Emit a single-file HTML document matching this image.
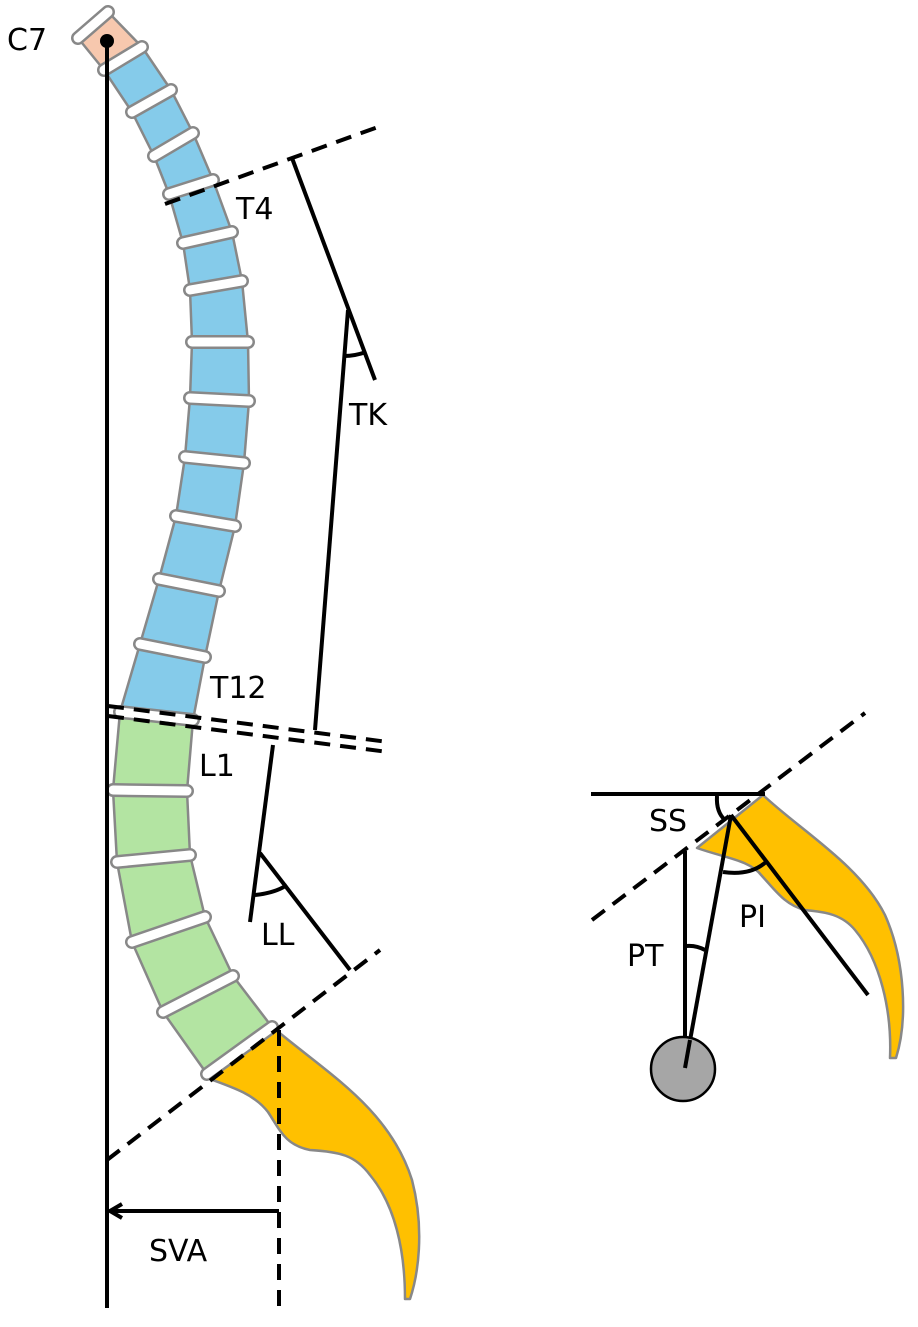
<!DOCTYPE html>
<html><head><meta charset="utf-8"><style>html,body{margin:0;padding:0;background:#fff}svg{display:block}text{font-family:"DejaVu Sans","Liberation Sans",sans-serif;font-size:30px;fill:#000}</style></head>
<body>
<svg width="918" height="1327" viewBox="0 0 918 1327" xmlns="http://www.w3.org/2000/svg">
<g stroke="#888" stroke-width="2.5" stroke-linejoin="round">
<polygon fill="#F7C8AE" points="78,38 108,12 142,47 104,70"/>
<g fill="#85CBEA">
<polygon points="104,70 142,47 171,90 132,112"/>
<polygon points="132,112 171,90 193,133 154,156"/>
<polygon points="154,156 193,133 213,180 169,194"/>
<polygon points="169,194 213,180 232,232 183,243"/>
<polygon points="183,243 232,232 242,281 190,290"/>
<polygon points="190,290 242,281 248,342 192,342"/>
<polygon points="192,342 248,342 249,401 190,398"/>
<polygon points="190,398 249,401 244,463 185,457"/>
<polygon points="185,457 244,463 235,526 176,516"/>
<polygon points="176,516 235,526 219,591 159,579"/>
<polygon points="159,579 219,591 205,657 140,644"/>
<polygon points="140,644 205,657 193,720 120,712"/>
</g>
<g fill="#B3E4A2">
<polygon points="120,712 193,720 187,791 113,790"/>
<polygon points="113,790 187,791 190,855 117,862"/>
<polygon points="117,862 190,855 205,917 132,942"/>
<polygon points="132,942 205,917 233,976 163,1012"/>
<polygon points="163,1012 233,976 272,1027 207,1074"/>
</g>
<path fill="#FFC000" d="M207,1078 L276,1030 C330,1075 390,1110 412,1180 C425,1230 418,1275 410,1299 L405,1299 C405,1250 395,1205 370,1175 C355,1155 340,1152 310,1150 C285,1145 280,1130 268,1112 C255,1095 235,1088 207,1078 Z"/>
<path fill="#FFC000" d="M697,848 L763,795 C800,830 860,865 885,915 C905,960 908,1020 896,1058 L890,1058 C892,1010 880,960 855,930 C840,912 820,912 805,910 C785,905 775,890 762,876 C750,860 725,858 697,848 Z"/>
</g>
<g stroke-linecap="round" fill="none">
<g stroke="#888" stroke-width="14">
<line x1="78" y1="38" x2="108" y2="12"/><line x1="104" y1="70" x2="142" y2="47"/><line x1="132" y1="112" x2="171" y2="90"/><line x1="154" y1="156" x2="193" y2="133"/><line x1="169" y1="194" x2="213" y2="180"/><line x1="183" y1="243" x2="232" y2="232"/><line x1="190" y1="290" x2="242" y2="281"/><line x1="192" y1="342" x2="248" y2="342"/><line x1="190" y1="398" x2="249" y2="401"/><line x1="185" y1="457" x2="244" y2="463"/><line x1="176" y1="516" x2="235" y2="526"/><line x1="159" y1="579" x2="219" y2="591"/><line x1="140" y1="644" x2="205" y2="657"/><line x1="120" y1="712" x2="193" y2="720"/><line x1="113" y1="790" x2="187" y2="791"/><line x1="117" y1="862" x2="190" y2="855"/><line x1="132" y1="942" x2="205" y2="917"/><line x1="163" y1="1012" x2="233" y2="976"/><line x1="207" y1="1074" x2="272" y2="1027"/>
</g>
<g stroke="#fff" stroke-width="9">
<line x1="78" y1="38" x2="108" y2="12"/><line x1="104" y1="70" x2="142" y2="47"/><line x1="132" y1="112" x2="171" y2="90"/><line x1="154" y1="156" x2="193" y2="133"/><line x1="169" y1="194" x2="213" y2="180"/><line x1="183" y1="243" x2="232" y2="232"/><line x1="190" y1="290" x2="242" y2="281"/><line x1="192" y1="342" x2="248" y2="342"/><line x1="190" y1="398" x2="249" y2="401"/><line x1="185" y1="457" x2="244" y2="463"/><line x1="176" y1="516" x2="235" y2="526"/><line x1="159" y1="579" x2="219" y2="591"/><line x1="140" y1="644" x2="205" y2="657"/><line x1="120" y1="712" x2="193" y2="720"/><line x1="113" y1="790" x2="187" y2="791"/><line x1="117" y1="862" x2="190" y2="855"/><line x1="132" y1="942" x2="205" y2="917"/><line x1="163" y1="1012" x2="233" y2="976"/><line x1="207" y1="1074" x2="272" y2="1027"/>
</g>
</g>
<g stroke="#000" stroke-width="4" fill="none">
<line x1="107" y1="41" x2="107" y2="1308"/>
<g stroke-dasharray="16,10">
<line x1="165" y1="204" x2="378" y2="127"/>
<line x1="108" y1="706" x2="388" y2="742"/>
<line x1="108" y1="716" x2="388" y2="752"/>
<line x1="107" y1="1160" x2="380" y2="950"/>
<line x1="279" y1="1030" x2="279" y2="1308"/>
<line x1="592" y1="920" x2="865" y2="713"/>
</g>
<line x1="292" y1="158" x2="375" y2="380"/>
<line x1="348" y1="310" x2="315" y2="730"/>
<path d="M344,356 Q355,356 366,352"/>
<line x1="273" y1="745" x2="250" y2="922"/>
<line x1="260" y1="853" x2="350" y2="970"/>
<path d="M255,895 Q275,893 287,885"/>
<line x1="279" y1="1211" x2="110" y2="1211"/>
<polyline points="122,1204 110,1211 122,1218"/>
<line x1="591" y1="794" x2="765" y2="794"/>
<line x1="685" y1="851" x2="685" y2="1068"/>
<line x1="685" y1="1068" x2="731" y2="815"/>
<line x1="731" y1="815" x2="868" y2="995"/>
<path d="M717,796 Q716,812 725,820"/>
<path d="M723,872 Q750,876 766,862"/>
<path d="M686,946 Q696,945 705,950"/>
</g>
<circle cx="107" cy="41" r="7" fill="#000"/>
<circle cx="683" cy="1069" r="32" fill="#A6A6A6" stroke="#000" stroke-width="2.5"/>
<line x1="685" y1="1068" x2="690" y2="1040" stroke="#000" stroke-width="4"/>
<text x="7" y="50">C7</text>
<text x="236" y="219">T4</text>
<text x="349" y="425">TK</text>
<text x="210" y="698">T12</text>
<text x="199" y="776">L1</text>
<text x="261" y="945">LL</text>
<text x="149" y="1261">SVA</text>
<text x="649" y="831">SS</text>
<text x="739" y="927">PI</text>
<text x="627" y="966">PT</text>
</svg>
</body></html>
